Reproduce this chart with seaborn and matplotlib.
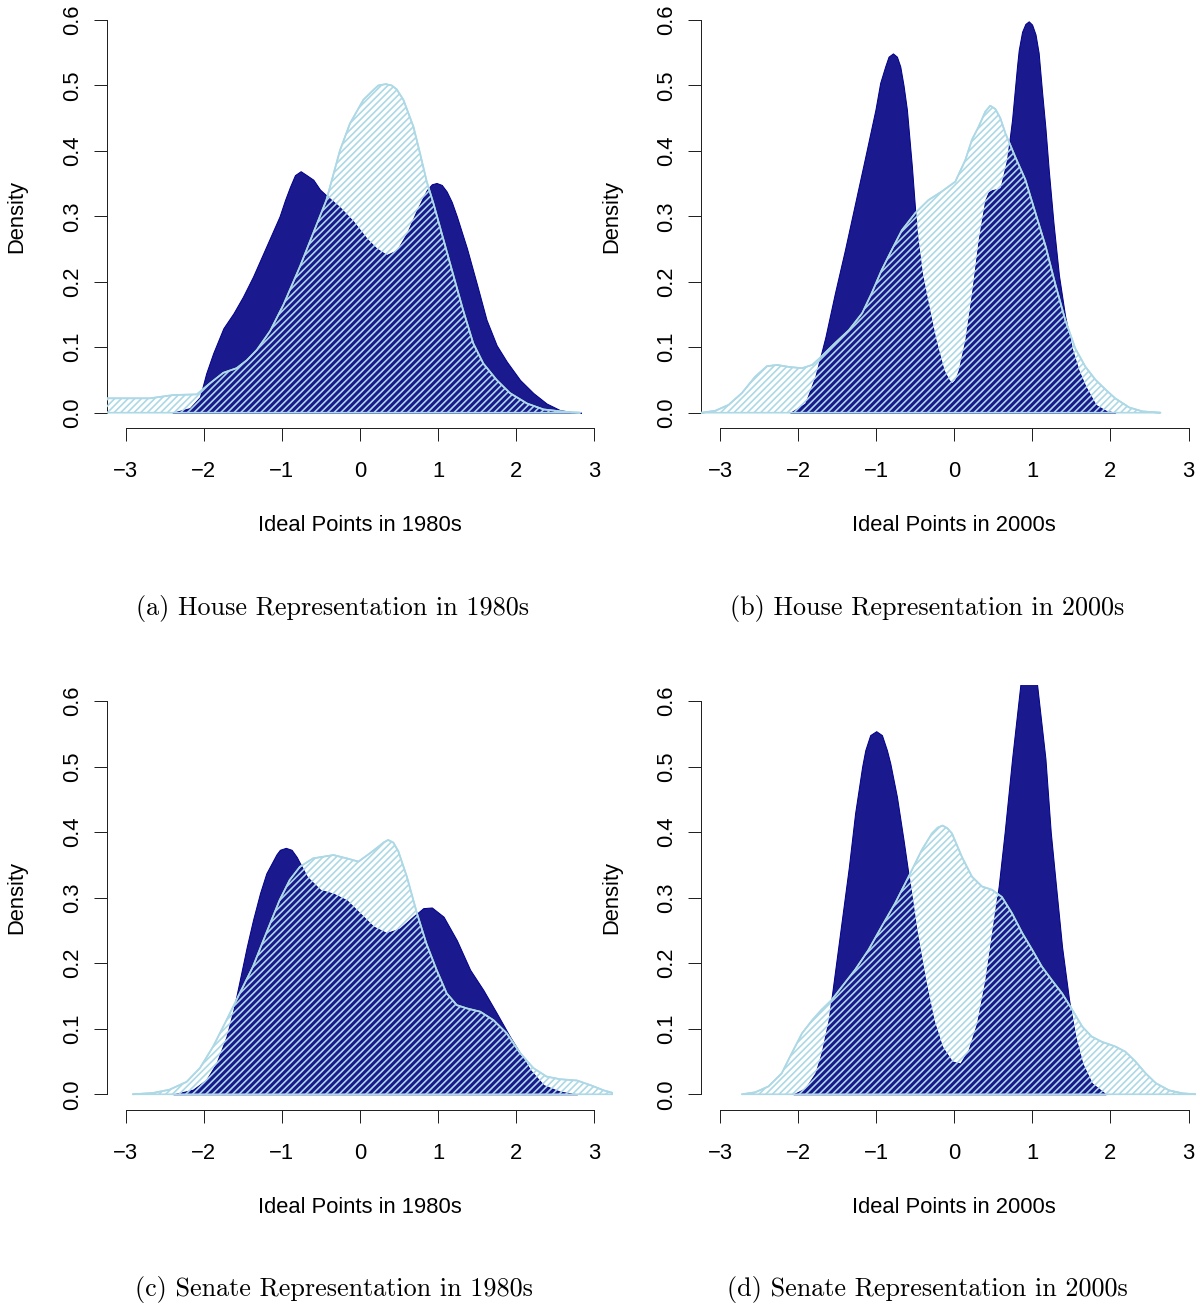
import matplotlib
matplotlib.use("Agg")
import matplotlib.pyplot as plt
import seaborn as sns

# ---------------------------------------------------------------
# Kernel density curves of ideal points (x grid, density)
# ---------------------------------------------------------------
# (a) House, 1980s
house80_dark_x = [-2.40, -2.18, -2.05, -1.97, -1.88, -1.75, -1.62, -1.50, -1.37, -1.20,
                  -1.03, -0.96, -0.897, -0.833, -0.76, -0.684, -0.598, -0.513, -0.385, -0.26,
                  -0.085, 0.085, 0.21, 0.34, 0.47, 0.60, 0.73, 0.855, 0.919, 0.98,
                  1.047, 1.11, 1.175, 1.24, 1.37, 1.50, 1.62, 1.75, 1.88, 2.05,
                  2.22, 2.39, 2.56, 2.74, 2.83]
house80_dark_y = [0.0, 0.007, 0.024, 0.060, 0.091, 0.129, 0.152, 0.177, 0.208, 0.254,
                  0.300, 0.325, 0.345, 0.363, 0.369, 0.363, 0.356, 0.341, 0.327, 0.314,
                  0.292, 0.266, 0.251, 0.241, 0.248, 0.274, 0.310, 0.340, 0.349, 0.351,
                  0.348, 0.338, 0.322, 0.300, 0.251, 0.195, 0.142, 0.103, 0.078, 0.050,
                  0.030, 0.014, 0.004, 0.0005, 0.0]
house80_light_x = [-3.30, -2.69, -2.39, -2.09, -1.92, -1.75, -1.58, -1.45, -1.32, -1.15,
                   -0.98, -0.77, -0.60, -0.43, -0.35, -0.256, -0.128, 0.043, 0.171, 0.235,
                   0.33, 0.406, 0.47, 0.556, 0.684, 0.769, 0.855, 0.94, 1.07, 1.20,
                   1.32, 1.45, 1.58, 1.75, 1.92, 2.14, 2.35, 2.65, 2.82]
house80_light_y = [0.022, 0.022, 0.027, 0.028, 0.045, 0.061, 0.068, 0.080, 0.096, 0.125,
                   0.165, 0.223, 0.274, 0.325, 0.360, 0.401, 0.442, 0.478, 0.493, 0.500,
                   0.502, 0.500, 0.494, 0.478, 0.437, 0.396, 0.353, 0.320, 0.264, 0.208,
                   0.157, 0.106, 0.075, 0.050, 0.030, 0.014, 0.005, 0.001, 0.0]

# (b) House, 2000s
house00_dark_x = [-2.10, -1.91, -1.78, -1.65, -1.53, -1.40, -1.27, -1.14, -1.01, -0.949,
                  -0.885, -0.842, -0.786, -0.735, -0.692, -0.65, -0.607, -0.543, -0.479, -0.415,
                  -0.33, -0.24, -0.137, -0.07, -0.03, 0.01, 0.056, 0.141, 0.226, 0.312,
                  0.397, 0.44, 0.483, 0.59, 0.675, 0.74, 0.803, 0.825, 0.868, 0.91,
                  0.953, 0.996, 1.04, 1.08, 1.124, 1.167, 1.21, 1.27, 1.34, 1.42,
                  1.51, 1.59, 1.68, 1.81, 1.94, 2.06]
house00_dark_y = [0.0, 0.014, 0.055, 0.116, 0.182, 0.249, 0.320, 0.391, 0.463, 0.504,
                  0.529, 0.544, 0.549, 0.544, 0.529, 0.500, 0.463, 0.376, 0.274, 0.213,
                  0.162, 0.111, 0.065, 0.050, 0.045, 0.050, 0.065, 0.111, 0.182, 0.264,
                  0.325, 0.337, 0.340, 0.343, 0.386, 0.448, 0.529, 0.554, 0.582, 0.594,
                  0.598, 0.593, 0.578, 0.550, 0.490, 0.435, 0.370, 0.290, 0.210, 0.147,
                  0.096, 0.065, 0.040, 0.012, 0.003, 0.0]
house00_light_x = [-3.30, -3.23, -3.06, -2.89, -2.72, -2.55, -2.40, -2.27, -2.12, -1.95,
                   -1.82, -1.70, -1.53, -1.35, -1.18, -1.06, -0.93, -0.80, -0.67, -0.50,
                   -0.33, -0.16, 0.013, 0.141, 0.226, 0.312, 0.397, 0.46, 0.526, 0.59,
                   0.654, 0.78, 0.91, 1.04, 1.17, 1.29, 1.42, 1.55, 1.68, 1.81,
                   1.94, 2.06, 2.24, 2.41, 2.64]
house00_light_y = [0.0, 0.0, 0.003, 0.012, 0.030, 0.055, 0.071, 0.073, 0.070, 0.068,
                   0.073, 0.086, 0.106, 0.126, 0.152, 0.182, 0.218, 0.249, 0.279, 0.305,
                   0.325, 0.338, 0.353, 0.386, 0.417, 0.437, 0.460, 0.469, 0.464, 0.450,
                   0.427, 0.391, 0.356, 0.305, 0.254, 0.198, 0.142, 0.098, 0.070, 0.050,
                   0.035, 0.022, 0.008, 0.002, 0.0]

# (c) Senate, 1980s
senate80_dark_x = [-2.39, -2.14, -1.97, -1.84, -1.71, -1.62, -1.54, -1.45, -1.37, -1.28,
                   -1.20, -1.07, -1.026, -0.95, -0.876, -0.81, -0.68, -0.51, -0.34, -0.17,
                   0.0, 0.17, 0.34, 0.51, 0.68, 0.81, 0.92, 1.07, 1.24, 1.41,
                   1.58, 1.75, 1.92, 2.05, 2.18, 2.35, 2.56, 2.78]
senate80_dark_y = [0.0, 0.007, 0.022, 0.047, 0.088, 0.129, 0.174, 0.225, 0.266, 0.307,
                   0.337, 0.366, 0.373, 0.376, 0.373, 0.362, 0.332, 0.312, 0.306, 0.296,
                   0.276, 0.256, 0.246, 0.253, 0.271, 0.284, 0.285, 0.271, 0.235, 0.190,
                   0.159, 0.124, 0.088, 0.063, 0.037, 0.014, 0.004, 0.0]
senate80_light_x = [-2.91, -2.65, -2.44, -2.22, -2.05, -1.88, -1.71, -1.54, -1.37, -1.20,
                    -1.03, -0.90, -0.77, -0.60, -0.34, -0.17, -0.02, 0.13, 0.26, 0.30,
                    0.36, 0.427, 0.49, 0.60, 0.73, 0.85, 0.98, 1.11, 1.24, 1.37,
                    1.54, 1.71, 1.88, 2.05, 2.22, 2.39, 2.56, 2.78, 2.95, 3.12,
                    3.30]
senate80_light_y = [0.0, 0.002, 0.007, 0.019, 0.040, 0.073, 0.113, 0.154, 0.195, 0.246,
                    0.296, 0.327, 0.347, 0.360, 0.365, 0.360, 0.355, 0.368, 0.380, 0.384,
                    0.388, 0.384, 0.371, 0.332, 0.276, 0.230, 0.190, 0.154, 0.136, 0.131,
                    0.126, 0.113, 0.093, 0.063, 0.040, 0.027, 0.023, 0.021, 0.014, 0.006,
                    0.0]

# (d) Senate, 2000s
senate00_dark_x = [-2.06, -1.91, -1.78, -1.70, -1.61, -1.53, -1.44, -1.35, -1.27, -1.18,
                   -1.14, -1.077, -1.00, -0.927, -0.863, -0.82, -0.735, -0.65, -0.564, -0.479,
                   -0.372, -0.265, -0.158, -0.03, 0.077, 0.184, 0.29, 0.397, 0.483, 0.568,
                   0.645, 0.74, 0.846, 0.90, 0.953, 1.01, 1.06, 1.167, 1.235, 1.29,
                   1.38, 1.47, 1.55, 1.64, 1.76, 1.94]
senate00_dark_y = [0.0, 0.009, 0.032, 0.063, 0.113, 0.185, 0.266, 0.347, 0.429, 0.500,
                   0.525, 0.548, 0.554, 0.548, 0.525, 0.505, 0.454, 0.388, 0.317, 0.246,
                   0.174, 0.113, 0.073, 0.050, 0.047, 0.068, 0.108, 0.174, 0.246, 0.317,
                   0.400, 0.512, 0.625, 0.658, 0.669, 0.658, 0.625, 0.512, 0.400, 0.333,
                   0.225, 0.144, 0.088, 0.047, 0.017, 0.0]
senate00_light_x = [-2.72, -2.55, -2.38, -2.21, -2.08, -1.95, -1.82, -1.70, -1.57, -1.44,
                    -1.27, -1.10, -0.93, -0.76, -0.585, -0.415, -0.286, -0.21, -0.15, -0.09,
                    -0.03, 0.098, 0.226, 0.355, 0.483, 0.61, 0.74, 0.87, 1.00, 1.12,
                    1.25, 1.38, 1.51, 1.64, 1.76, 1.89, 2.06, 2.19, 2.32, 2.45,
                    2.58, 2.75, 2.92, 3.09]
senate00_light_y = [0.0, 0.003, 0.012, 0.032, 0.063, 0.093, 0.113, 0.129, 0.144, 0.164,
                    0.190, 0.220, 0.256, 0.291, 0.332, 0.373, 0.398, 0.407, 0.410, 0.406,
                    0.398, 0.362, 0.332, 0.317, 0.312, 0.301, 0.276, 0.246, 0.220, 0.195,
                    0.174, 0.154, 0.129, 0.103, 0.088, 0.080, 0.073, 0.065, 0.050, 0.032,
                    0.017, 0.006, 0.0015, 0.0]

x_ticks = [-3, -2, -1, 0, 1, 2, 3]
x_tick_labels = ["\u22123", "\u22122", "\u22121", "0", "1", "2", "3"]
y_ticks = [0.0, 0.1, 0.2, 0.3, 0.4, 0.5, 0.6]
y_tick_labels = ["0.0", "0.1", "0.2", "0.3", "0.4", "0.5", "0.6"]

x_titles = ["Ideal Points in 1980s", "Ideal Points in 2000s",
            "Ideal Points in 1980s", "Ideal Points in 2000s"]
captions = ["(a) House Representation in 1980s", "(b) House Representation in 2000s",
            "(c) Senate Representation in 1980s", "(d) Senate Representation in 2000s"]

# ---------------------------------------------------------------
# Styling
# ---------------------------------------------------------------
DPI = 80
W, H = 1196, 1304
DARK_FILL = "#1a1a8e"
DARK_EDGE = "#00008B"
LIGHT = "#ADD8E6"
AXIS_COLOR = "#222222"

sns.set_theme(style="ticks")
plt.rcParams["font.family"] = ["Liberation Sans", "DejaVu Sans"]
plt.rcParams["hatch.linewidth"] = 1.5
plt.rcParams["axes.unicode_minus"] = True

fig = plt.figure(figsize=(W / DPI, H / DPI), dpi=DPI)
fig.patch.set_facecolor("white")


def axes_px(left, top, right, bottom):
    """Add an axes given its pixel box (origin at the top-left corner)."""
    return fig.add_axes([left / W, 1 - bottom / H, (right - left) / W, (bottom - top) / H])


def draw_panel(ax, dark_x, dark_y, light_x, light_y, xtitle):
    ax.set_facecolor("white")
    # solid dark density
    ax.fill_between(dark_x, dark_y, 0, facecolor=DARK_FILL, edgecolor=DARK_EDGE,
                    linewidth=0.9, zorder=2)
    # hatched light density on top
    ax.fill_between(light_x, light_y, 0, facecolor="none", edgecolor=LIGHT,
                    hatch="////", linewidth=1.5, zorder=3)
    sns.lineplot(x=light_x, y=light_y, ax=ax, color=LIGHT, linewidth=1.5,
                 sort=False, estimator=None, zorder=4)

    ax.set_xlim(-3.24, 3.24)
    ax.set_ylim(-0.024, 0.624)
    ax.grid(False)

    sns.despine(ax=ax)
    for side in ("left", "bottom"):
        ax.spines[side].set_color(AXIS_COLOR)
        ax.spines[side].set_linewidth(0.9)
    ax.spines["left"].set_bounds(0, 0.6)
    ax.spines["bottom"].set_bounds(-3, 3)

    ax.set_xticks(x_ticks)
    ax.set_xticklabels(x_tick_labels)
    ax.set_yticks(y_ticks)
    ax.set_yticklabels(y_tick_labels, rotation=90, va="center")
    ax.tick_params(axis="both", direction="out", length=11.7, width=0.9,
                   color=AXIS_COLOR, labelsize=19.8, labelcolor="black")
    ax.tick_params(axis="x", pad=18)
    ax.tick_params(axis="y", pad=10)

    ax.set_xlabel(xtitle, fontsize=19.8, color="black")
    ax.xaxis.set_label_coords(0.5, -0.204)
    ax.set_ylabel("Density", fontsize=19.8, color="black")
    ax.yaxis.set_label_coords(-0.157, 0.5)


panels = [
    ((107.0, 4.3, 613.0, 428.4), house80_dark_x, house80_dark_y, house80_light_x, house80_light_y),
    ((701.3, 4.3, 1207.3, 428.4), house00_dark_x, house00_dark_y, house00_light_x, house00_light_y),
    ((107.0, 685.3, 613.0, 1110.0), senate80_dark_x, senate80_dark_y, senate80_light_x, senate80_light_y),
    ((701.3, 685.3, 1207.3, 1110.0), senate00_dark_x, senate00_dark_y, senate00_light_x, senate00_light_y),
]

for (box, dx, dy, lx, ly), xtitle in zip(panels, x_titles):
    ax = axes_px(*box)
    draw_panel(ax, dx, dy, lx, ly, xtitle)

# sub-figure captions
caption_pos = [(332.5, 614.5), (927.0, 614.5), (333.5, 1295.8), (927.5, 1295.8)]
for (cx, cy), text in zip(caption_pos, captions):
    fig.text(cx / W, 1 - cy / H, text, family="cmr10", fontsize=23.5,
             ha="center", va="baseline", color="black")

fig.savefig("out.png", dpi=DPI, facecolor="white")
